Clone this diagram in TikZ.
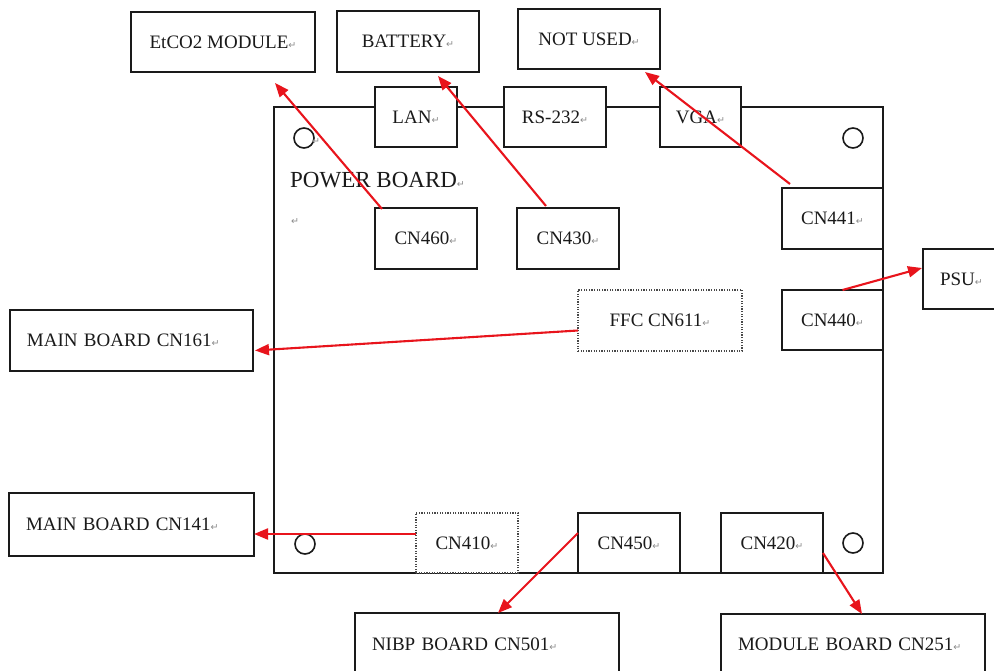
\documentclass[tikz,border=0pt]{standalone}
\usepackage{fontspec}
\setmainfont{Liberation Serif}
\newfontfamily\djv{DejaVu Sans}
\usetikzlibrary{calc,arrows.meta}
\definecolor{ink}{HTML}{1A1A1A}
\definecolor{arrred}{HTML}{E8141C}
\definecolor{markgray}{HTML}{8A8A8A}
\newcommand{\retmark}{{\fontsize{9.5}{9.5}\selectfont\color{markgray}\djv ↵}}
\begin{document}
\begin{tikzpicture}[x=1pt,y=-1pt,
  every node/.style={font=\fontsize{19}{22}\selectfont, text=ink},
  boxc/.style={draw=ink, line width=1.9pt, fill=white, inner sep=0pt, outer sep=0pt, anchor=north west, align=center},
  boxl/.style={draw=ink, line width=1.9pt, fill=white, inner xsep=17pt, inner ysep=0pt, outer sep=0pt, anchor=north west, align=left},
  dotbox/.style={draw=ink!80, line width=1.2pt, dash pattern=on 1.2pt off 1.4pt, fill=white, inner sep=0pt, outer sep=0pt, anchor=north west, align=center},
  hole/.style={circle, draw=ink, line width=1.6pt, minimum size=20pt, inner sep=0pt},
  arr/.style={draw=arrred, line width=2.1pt, -{Triangle[length=14pt,width=11pt]}}
]
\useasboundingbox (0,0) rectangle (994,670);
\clip (0,0) rectangle (994,670);
\fill[white] (0,0) rectangle (994,670);

% power board
\node[draw=ink, line width=1.9pt, minimum width=609pt, minimum height=466pt, inner sep=0pt, outer sep=0pt, anchor=north west] (board) at (274,107) {};
\node[hole] (h1) at (304,138) {};
\node[anchor=west, inner sep=0pt] (h1mark) at (312,142) {\retmark};
\node[hole] (h2) at (853,138) {};
\node[hole] (h3) at (305,544) {};
\node[hole] (h4) at (853,543) {};
\node[anchor=west, inner sep=0pt, font=\fontsize{23}{26}\selectfont] (title) at (290,180) {POWER BOARD\retmark};
\node[inner sep=0pt] (blank) at (295,222) {\retmark};

% top external boxes
\node[boxc, minimum width=184pt, minimum height=60pt] (etco2) at (131,12) {EtCO2 MODULE\retmark};
\node[boxc, minimum width=142pt, minimum height=61pt] (battery) at (337,11) {BATTERY\retmark};
\node[boxc, minimum width=142pt, minimum height=60pt] (notused) at (518,9) {NOT USED\retmark};

% connectors on top edge
\node[boxc, minimum width=82pt, minimum height=60pt] (lan) at (375,87) {LAN\retmark};
\node[boxc, minimum width=102pt, minimum height=60pt] (rs) at (504,87) {RS-232\retmark};
\node[boxc, minimum width=81pt, minimum height=60pt] (vga) at (660,87) {VGA\retmark};

% inner connectors
\node[boxc, minimum width=102pt, minimum height=61pt] (cn460) at (375,208) {CN460\retmark};
\node[boxc, minimum width=102pt, minimum height=61pt] (cn430) at (517,208) {CN430\retmark};
\node[boxc, minimum width=101pt, minimum height=61pt] (cn441) at (782,188) {CN441\retmark};
\node[boxc, minimum width=101pt, minimum height=60pt] (cn440) at (782,290) {CN440\retmark};
\node[dotbox, minimum width=164pt, minimum height=61pt] (ffc) at (578,290) {FFC CN611\retmark};
\node[dotbox, minimum width=102pt, minimum height=60pt] (cn410) at (416,513) {CN410\retmark};
\node[boxc, minimum width=102pt, minimum height=60pt] (cn450) at (578,513) {CN450\retmark};
\node[boxc, minimum width=102pt, minimum height=60pt] (cn420) at (721,513) {CN420\retmark};

% external boxes left / right / bottom
\node[boxl, text width=66pt, minimum height=60pt] (psu) at (923,249) {PSU\retmark};
\node[boxl, text width=209pt, minimum height=61pt] (cn161) at (10,310) {MAIN BOARD CN161\retmark};
\node[boxl, text width=211pt, minimum height=63pt] (cn141) at (9,493) {MAIN BOARD CN141\retmark};
\node[boxl, text width=230pt, minimum height=62pt] (nibp) at (355,613) {NIBP BOARD CN501\retmark};
\node[boxl, text width=230pt, minimum height=61pt] (module) at (721,614) {MODULE BOARD CN251\retmark};

% arrows
\draw[arr] ($(cn460.north west)+(7,1)$) -- ($(etco2.south)+(52,11)$);
\draw[arr] ($(cn430.north)+(-22,-2)$) -- ($(battery.south)+(30,4)$);
\draw[arr] ($(cn441.north west)+(8,-4)$) -- ($(notused.south)+(56,3)$);
\draw[arr] ($(cn440.north)+(10,0)$) -- ($(psu.west)+(-1,-11)$);
\draw[arr] ($(ffc.west)+(0,10)$) -- ($(cn161.east)+(2,10)$);
\draw[arr] ($(cn410.west)+(0,-9)$) -- ($(cn141.east)+(0,9.5)$);
\draw[arr] ($(cn450.west)+(0,-10)$) -- ($(nibp.north)+(11,0)$);
\draw[arr] ($(cn420.east)+(0,10)$) -- ($(module.north)+(9,0)$);
\end{tikzpicture}
\end{document}
